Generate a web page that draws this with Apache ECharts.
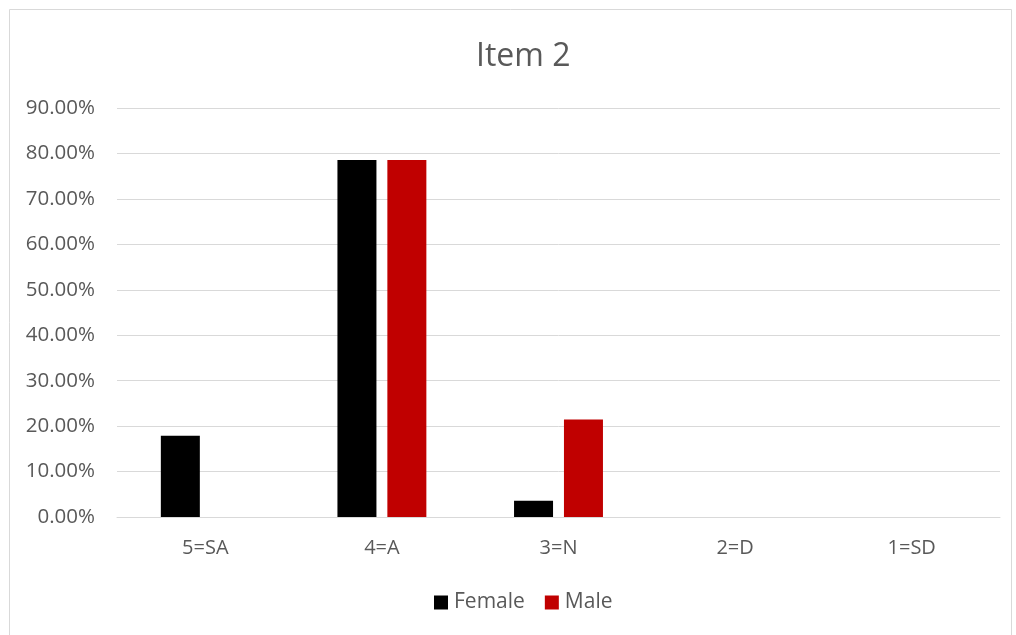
<!DOCTYPE html>
<html>
<head>
<meta charset="utf-8">
<script src="https://cdn.jsdelivr.net/npm/echarts@6/dist/echarts.min.js"></script>
<style>
  html, body { margin: 0; padding: 0; background: #fff; }
  #chart { width: 1016px; height: 635px; }
</style>
</head>
<body>
<div id="chart"></div>
<script>
// Response categories and the share of each group (percent)
const categories = ['5=SA', '4=A', '3=N', '2=D', '1=SD'];
const female = [17.86, 78.57, 3.57, 0, 0];
const male = [0, 78.57, 21.43, 0, 0];
const seriesNames = ['Female', 'Male'];

const chart = echarts.init(document.getElementById('chart'));
const font = '"Open Sans", "Noto Sans", sans-serif';
const textColor = '#595959';

chart.setOption({
  animation: false,
  backgroundColor: '#fff',
  title: {
    text: 'Item 2',
    left: 471,
    top: 36,
    textStyle: { fontFamily: font, fontSize: 32, fontWeight: 'normal', color: textColor }
  },
  graphic: [{
    type: 'rect',
    shape: { x: 9.5, y: 9.5, width: 1002, height: 640 },
    style: { fill: 'none', stroke: '#d9d9d9', lineWidth: 1 },
    silent: true
  }],
  legend: {
    data: seriesNames,
    bottom: 17,
    left: 429,
    itemWidth: 14,
    itemHeight: 14,
    itemGap: 20,
    icon: 'rect',
    textStyle: { fontFamily: font, fontSize: 21, color: textColor, padding: [0, 0, 0, 1] }
  },
  grid: { left: 117, right: 16, top: 108, bottom: 118 },
  xAxis: {
    type: 'category',
    data: categories,
    axisLine: { lineStyle: { color: '#d9d9d9', width: 1 } },
    axisTick: { show: false },
    axisLabel: { fontFamily: font, fontSize: 20, color: textColor, margin: 21 }
  },
  yAxis: {
    type: 'value',
    min: 0,
    max: 90,
    interval: 10,
    axisLine: { show: false },
    axisTick: { show: false },
    splitLine: { lineStyle: { color: '#d9d9d9', width: 1 } },
    axisLabel: {
      fontFamily: font, fontSize: 20.5, color: textColor, margin: 22,
      formatter: v => v.toFixed(2) + '%'
    }
  },
  series: [
    {
      name: seriesNames[0], type: 'bar', data: female,
      barWidth: 39, barGap: '28%',
      itemStyle: { color: '#000000' }
    },
    {
      name: seriesNames[1], type: 'bar', data: male,
      barWidth: 39,
      itemStyle: { color: '#c00000' }
    }
  ]
});
</script>
</body>
</html>
